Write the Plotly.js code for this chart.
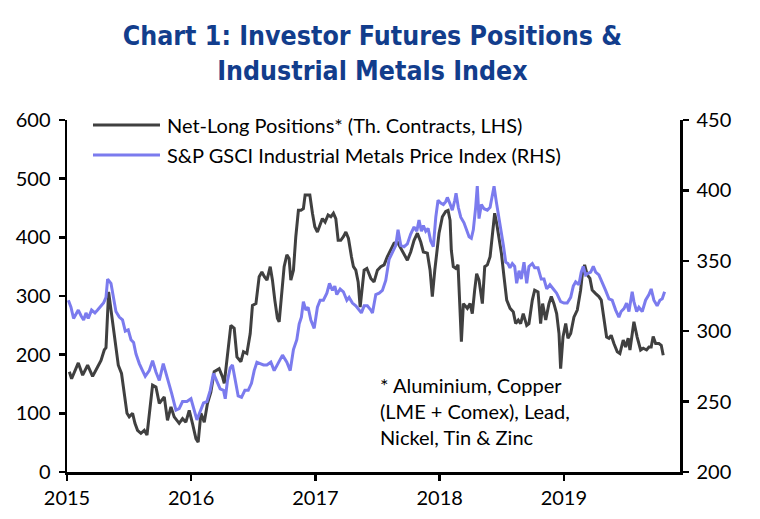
<!DOCTYPE html>
<html>
<head>
<meta charset="utf-8">
<script src="https://cdn.plot.ly/plotly-3.0.1.min.js"></script>
<style>html,body{margin:0;padding:0;background:#fff;}#chart{width:760px;height:519px;}</style>
</head>
<body>
<div id="chart"></div>
<script>
// Net-long positions (thousand contracts, LHS)
const netLongYears = [2015.019,2015.037,2015.091,2015.126,2015.166,2015.206,2015.246,2015.274,2015.300,2015.314,2015.335,2015.354,2015.381,2015.413,2015.439,2015.461,2015.483,2015.501,2015.528,2015.547,2015.568,2015.595,2015.622,2015.644,2015.662,2015.689,2015.716,2015.743,2015.783,2015.809,2015.837,2015.863,2015.903,2015.930,2015.957,2015.984,2016.010,2016.038,2016.056,2016.078,2016.105,2016.131,2016.158,2016.185,2016.225,2016.252,2016.266,2016.292,2016.319,2016.346,2016.368,2016.400,2016.421,2016.448,2016.475,2016.493,2016.521,2016.547,2016.569,2016.589,2016.610,2016.636,2016.654,2016.673,2016.694,2016.708,2016.727,2016.748,2016.770,2016.788,2016.802,2016.823,2016.842,2016.863,2016.883,2016.903,2016.917,2016.955,2016.976,2016.995,2017.016,2017.038,2017.056,2017.078,2017.102,2017.124,2017.145,2017.164,2017.183,2017.204,2017.225,2017.245,2017.266,2017.290,2017.306,2017.325,2017.344,2017.360,2017.373,2017.392,2017.414,2017.446,2017.472,2017.499,2017.526,2017.553,2017.579,2017.607,2017.633,2017.660,2017.687,2017.714,2017.740,2017.767,2017.794,2017.821,2017.848,2017.869,2017.901,2017.923,2017.941,2017.961,2017.977,2017.995,2018.022,2018.049,2018.068,2018.084,2018.094,2018.110,2018.130,2018.148,2018.164,2018.175,2018.191,2018.210,2018.223,2018.245,2018.263,2018.282,2018.298,2018.317,2018.344,2018.363,2018.384,2018.406,2018.424,2018.443,2018.459,2018.478,2018.497,2018.518,2018.540,2018.567,2018.593,2018.612,2018.633,2018.652,2018.673,2018.701,2018.719,2018.746,2018.765,2018.792,2018.813,2018.829,2018.854,2018.880,2018.899,2018.920,2018.942,2018.961,2018.974,2018.993,2019.015,2019.033,2019.055,2019.081,2019.108,2019.135,2019.148,2019.167,2019.188,2019.210,2019.228,2019.256,2019.282,2019.301,2019.323,2019.344,2019.363,2019.381,2019.403,2019.430,2019.451,2019.478,2019.497,2019.518,2019.532,2019.550,2019.564,2019.590,2019.618,2019.639,2019.666,2019.685,2019.703,2019.719,2019.739,2019.765,2019.784,2019.800];
const netLongValues = [171,159,186,165,182,163,179,190,208,212,307,276,230,182,168,134,100,94,100,83,71,66,71,63,94,148,145,117,128,88,111,94,83,91,85,105,83,57,51,100,85,117,136,171,176,162,151,202,250,245,196,188,205,202,236,284,287,333,341,333,327,350,327,293,262,256,299,350,370,364,327,344,401,446,446,449,472,472,441,418,409,424,432,426,438,435,441,432,395,395,401,409,398,367,350,344,324,281,310,344,347,330,324,344,350,353,367,378,390,392,381,370,361,375,395,407,392,375,373,344,299,344,373,407,435,444,446,429,378,350,347,353,276,222,287,281,279,287,270,310,338,327,287,350,353,367,401,441,424,398,373,333,293,279,273,253,259,253,270,250,253,293,310,307,253,287,259,287,299,287,270,236,176,230,253,228,236,264,276,310,336,353,336,330,310,304,299,293,262,230,228,233,219,205,202,225,213,228,208,241,256,230,208,211,208,213,213,231,219,219,216,199];

// S&P GSCI Industrial Metals Price Index (RHS)
const metalsYears = [2015.011,2015.032,2015.053,2015.091,2015.113,2015.134,2015.153,2015.171,2015.198,2015.225,2015.246,2015.268,2015.294,2015.314,2015.327,2015.354,2015.375,2015.394,2015.421,2015.447,2015.469,2015.493,2015.515,2015.536,2015.555,2015.582,2015.608,2015.630,2015.662,2015.689,2015.716,2015.743,2015.775,2015.805,2015.842,2015.877,2015.903,2015.930,2015.965,2015.998,2016.024,2016.046,2016.072,2016.099,2016.126,2016.153,2016.179,2016.207,2016.233,2016.260,2016.274,2016.292,2016.314,2016.332,2016.352,2016.378,2016.405,2016.432,2016.459,2016.485,2016.507,2016.529,2016.555,2016.582,2016.609,2016.641,2016.668,2016.694,2016.735,2016.770,2016.797,2016.823,2016.850,2016.869,2016.887,2016.903,2016.923,2016.941,2016.963,2016.990,2017.016,2017.038,2017.064,2017.092,2017.113,2017.137,2017.156,2017.172,2017.199,2017.225,2017.253,2017.271,2017.298,2017.325,2017.352,2017.370,2017.392,2017.418,2017.446,2017.459,2017.486,2017.513,2017.539,2017.566,2017.593,2017.619,2017.647,2017.665,2017.687,2017.714,2017.740,2017.767,2017.794,2017.816,2017.834,2017.853,2017.869,2017.888,2017.907,2017.928,2017.949,2017.969,2017.987,2018.009,2018.030,2018.049,2018.062,2018.081,2018.102,2018.122,2018.132,2018.150,2018.170,2018.196,2018.218,2018.237,2018.255,2018.271,2018.290,2018.303,2018.317,2018.336,2018.357,2018.384,2018.406,2018.424,2018.438,2018.456,2018.478,2018.497,2018.513,2018.532,2018.550,2018.566,2018.585,2018.604,2018.620,2018.639,2018.657,2018.679,2018.701,2018.719,2018.746,2018.765,2018.792,2018.818,2018.840,2018.862,2018.888,2018.915,2018.942,2018.974,2019.001,2019.027,2019.055,2019.076,2019.095,2019.121,2019.140,2019.156,2019.175,2019.194,2019.216,2019.237,2019.256,2019.282,2019.309,2019.336,2019.363,2019.389,2019.417,2019.443,2019.461,2019.484,2019.505,2019.524,2019.550,2019.564,2019.586,2019.604,2019.631,2019.658,2019.685,2019.703,2019.725,2019.751,2019.773,2019.792,2019.811];
const metalsValues = [322,317,309,315,311,308,313,309,315,313,315,317,320,324,337,334,322,314,310,308,300,301,294,292,284,277,272,268,272,279,271,265,277,268,256,244,245,250,250,252,244,237,243,249,250,258,270,264,259,258,252,265,274,276,265,254,253,258,258,263,272,278,277,276,276,278,272,276,283,278,272,287,294,305,310,321,315,317,308,302,317,322,322,327,334,329,332,326,330,328,322,324,320,318,315,313,318,318,315,313,326,327,329,336,351,356,361,372,361,360,362,369,374,371,379,371,375,371,373,364,360,381,393,391,390,392,395,391,386,393,398,388,381,377,372,367,366,372,388,403,380,390,387,386,388,397,403,392,381,371,361,349,348,345,348,346,334,343,337,349,334,346,348,345,345,337,337,330,333,330,327,321,320,320,324,332,335,333,342,346,340,341,342,346,342,340,335,329,323,322,315,310,314,316,320,314,328,321,314,317,314,322,326,330,322,318,322,323,328];

const xTickVals = [2015, 2016, 2017, 2018, 2019];
const xTickText = ['2015', '2016', '2017', '2018', '2019'];
const leftTicks = [0, 100, 200, 300, 400, 500, 600];
const rightTicks = [200, 250, 300, 350, 400, 450];

const seriesNames = ['Net-Long Positions* (Th. Contracts, LHS)', 'S&P GSCI Industrial Metals Price Index (RHS)'];
const noteText = '* Aluminium, Copper<br>(LME + Comex), Lead,<br>Nickel, Tin &amp; Zinc';
const titleText = 'Chart 1: Investor Futures Positions &amp;<br>Industrial Metals Index';

const BLACK = '#404040';
const BLUE = '#7B7BEE';
const FONT = 'Lato, "Open Sans", sans-serif';

const traces = [
  {x: metalsYears, y: metalsValues, yaxis: 'y2', type: 'scatter', mode: 'lines', name: seriesNames[1],
   line: {color: BLUE, width: 3}, showlegend: false},
  {x: netLongYears, y: netLongValues, yaxis: 'y', type: 'scatter', mode: 'lines', name: seriesNames[0],
   line: {color: BLACK, width: 3}, showlegend: false}
];

const axisStyle = {
  showline: true, linecolor: '#000', linewidth: 2.5, ticks: 'outside', ticklen: 6, tickwidth: 2.5,
  tickcolor: '#000', showgrid: false, zeroline: false, tickfont: {family: FONT, size: 20, color: '#000'}
};

const layout = {
  width: 760, height: 519,
  margin: {l: 67, r: 80, t: 120, b: 47, pad: 0},
  paper_bgcolor: '#fff', plot_bgcolor: '#fff',
  showlegend: false,
  title: {
    text: titleText, x: 0.49, xanchor: 'center', xref: 'container',
    y: 0.913, yanchor: 'top', yref: 'container',
    font: {family: '"Liberation Sans Narrow", "DejaVu Sans Condensed", sans-serif', size: 26.5, color: '#123D8C', weight: 'bold'}
  },
  xaxis: Object.assign({}, axisStyle, {range: [2015, 2019.935], tickmode: 'array', tickvals: xTickVals, ticktext: xTickText}),
  yaxis: Object.assign({}, axisStyle, {range: [0, 600], tickmode: 'array', tickvals: leftTicks, ticklabelstandoff: 4}),
  yaxis2: Object.assign({}, axisStyle, {range: [200, 450], tickmode: 'array', tickvals: rightTicks, overlaying: 'y', side: 'right', ticklabelstandoff: 4}),
  shapes: [
    {type: 'line', xref: 'paper', yref: 'paper', x0: 0.0424, x1: 0.1517, y0: 0.9858, y1: 0.9858, line: {color: BLACK, width: 3}},
    {type: 'line', xref: 'paper', yref: 'paper', x0: 0.0424, x1: 0.1517, y0: 0.9006, y1: 0.9006, line: {color: BLUE, width: 3}}
  ],
  annotations: [
    {xref: 'paper', yref: 'paper', x: 0.160, y: 0.9858, xanchor: 'left', yanchor: 'middle', showarrow: false,
     text: seriesNames[0], font: {family: FONT, size: 20, color: '#000'}},
    {xref: 'paper', yref: 'paper', x: 0.160, y: 0.9006, xanchor: 'left', yanchor: 'middle', showarrow: false,
     text: seriesNames[1], font: {family: FONT, size: 20, color: '#000'}},
    {xref: 'paper', yref: 'paper', x: 0.508, y: 0.1733, xanchor: 'left', yanchor: 'middle', align: 'left', showarrow: false,
     text: noteText, font: {family: FONT, size: 20, color: '#000'}}
  ]
};

Plotly.newPlot('chart', traces, layout, {staticPlot: true, displayModeBar: false});
</script>
</body>
</html>
